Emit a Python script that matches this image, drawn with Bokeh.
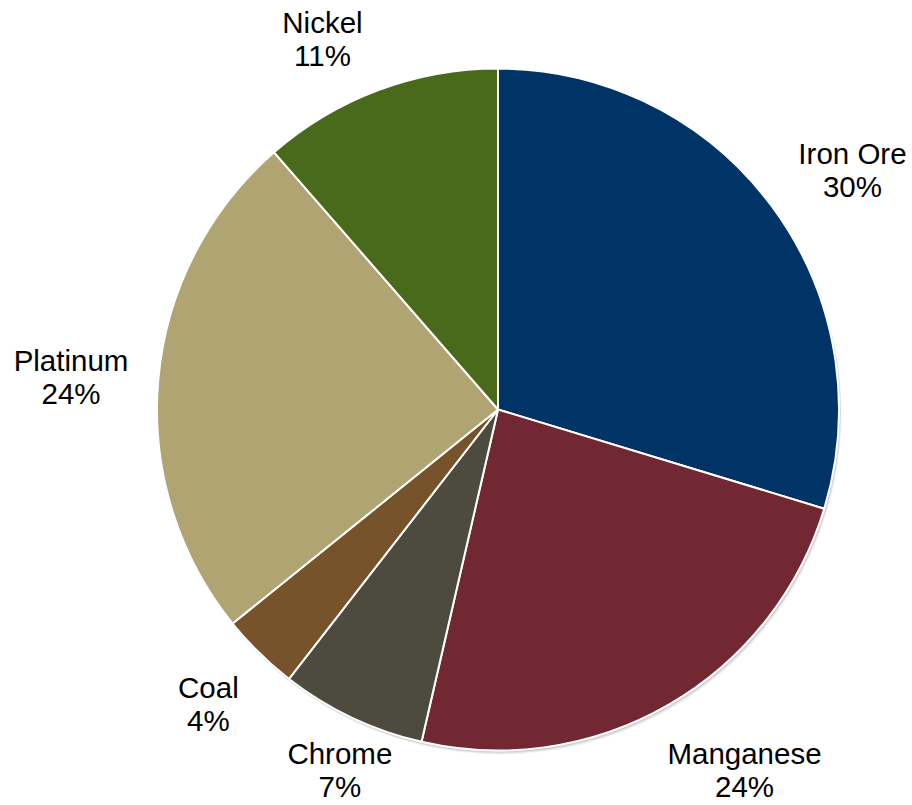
import numpy as np
from bokeh.plotting import figure
from bokeh.models import Range1d, ColumnDataSource
from bokeh.core.properties import value
from bokeh.embed import file_html
from bokeh.resources import INLINE

# ---- data ----
categories = ["Iron Ore", "Manganese", "Chrome", "Coal", "Platinum", "Nickel"]
values = [29.7, 23.9, 6.9, 3.7, 24.4, 11.4]

# ---- style ----
colors = ["#003366", "#722832", "#4D4B3E", "#76532A", "#B0A472", "#4A6A1B"]
# label placement offsets (px) from the slice's outer edge at its mid-angle (screen: +dy is down)
label_dx = [80.5, 75.7, -12.0, -50.8, -87.3, -56.0]
label_dy = [-36.6, 65.2, 52.1, 51.3, -2.4, -51.0]

W, H = 912, 805
cx, cy, R = 497.5, H - 409.0, 341.0
LINE_GAP = 33.3
BASE_SHIFT = 0.0

vals = np.array(values, dtype=float)
frac = vals / vals.sum()
cum_end = np.cumsum(frac)
cum_start = cum_end - frac
start = np.pi / 2 - 2 * np.pi * cum_start
end = np.pi / 2 - 2 * np.pi * cum_end
mid = np.pi / 2 - 2 * np.pi * (cum_start + frac / 2)

ex = cx + R * np.cos(mid)
ey = cy + R * np.sin(mid)
lx = ex + np.array(label_dx)
ly = ey - np.array(label_dy)

pct = [f"{int(round(f * 100))}%" for f in frac]

src = ColumnDataSource(dict(
    cat=categories, start=start, end=end, color=colors,
    lx=lx, name_y=ly + LINE_GAP / 2 - BASE_SHIFT, pct_y=ly - LINE_GAP / 2 - BASE_SHIFT,
    pct=pct,
))

p = figure(width=W, height=H, x_range=Range1d(0, W), y_range=Range1d(0, H),
           output_backend="svg", toolbar_location=None, min_border=0,
           x_axis_type=None, y_axis_type=None, background_fill_color="white",
           border_fill_color="white")
p.grid.visible = False
p.outline_line_color = None

# soft shadow
for off, a in [(3.5, 0.05), (2.5, 0.07), (1.5, 0.08)]:
    p.circle(x=cx + off * 0.6, y=cy - off, radius=R + 0.5, fill_color="black",
             fill_alpha=a, line_color=None)

p.wedge(x=cx, y=cy, radius=R, start_angle="start", end_angle="end",
        direction="clock", fill_color="color", line_color="white",
        line_width=2, source=src)

common = dict(text_align="center", text_baseline="alphabetic",
              text_font=value("Liberation Sans"), text_font_size="29.5px",
              text_color="black", source=src)
p.text(x="lx", y="name_y", text="cat", **common)
p.text(x="lx", y="pct_y", text="pct", **common)

open("out.html", "w").write(file_html(p, INLINE))
